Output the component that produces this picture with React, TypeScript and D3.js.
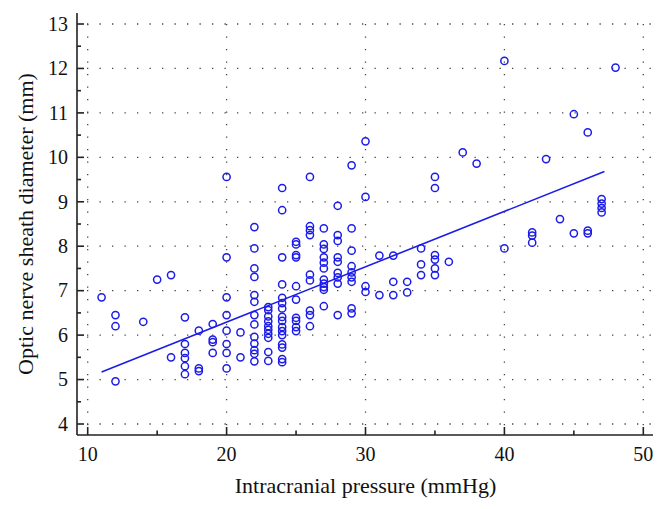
import React from "react";
import * as d3 from "d3";

// ICP (mmHg) and ONSD (mm) observations, grouped by ICP value
const icpColumns: number[] = [11, 12, 14, 15, 16, 17, 18, 19, 20, 21, 22, 23, 24, 25, 26, 27, 28, 29, 30, 31, 32, 33, 34, 35, 36, 37, 38, 40, 42, 43, 44, 45, 46, 47, 48];
const onsdColumns: number[][] = [
  [6.85],
  [6.45, 6.2, 4.96],
  [6.3],
  [7.25],
  [7.35, 5.5],
  [6.4, 5.8, 5.6, 5.48, 5.3, 5.12],
  [6.1, 5.25, 5.19],
  [6.25, 5.9, 5.84, 5.6],
  [9.56, 7.75, 6.85, 6.45, 6.1, 5.8, 5.6, 5.25],
  [6.06, 5.5],
  [8.43, 7.95, 7.5, 7.31, 6.9, 6.75, 6.45, 6.24, 5.96, 5.81, 5.66, 5.58, 5.41],
  [6.63, 6.56, 6.42, 6.31, 6.2, 6.12, 6.03, 5.94, 5.62, 5.42],
  [9.31, 8.81, 7.75, 7.14, 6.84, 6.72, 6.6, 6.41, 6.32, 6.18, 6.09, 6.0, 5.79, 5.72, 5.46, 5.39],
  [8.1, 8.04, 7.8, 7.75, 7.1, 6.8, 6.39, 6.32, 6.18, 6.09],
  [9.56, 8.45, 8.36, 8.25, 7.36, 7.23, 6.55, 6.45, 6.2],
  [8.4, 8.04, 7.94, 7.75, 7.63, 7.5, 7.25, 7.16, 7.08, 7.02, 6.65],
  [8.91, 8.25, 8.12, 7.75, 7.65, 7.4, 7.3, 7.16, 6.45],
  [9.82, 8.4, 7.9, 7.55, 7.41, 7.3, 7.2, 6.6, 6.49],
  [10.36, 9.11, 7.1, 6.97],
  [7.79, 6.9],
  [7.79, 7.2, 6.9],
  [7.2, 6.96],
  [7.95, 7.59, 7.35],
  [9.56, 9.31, 7.8, 7.7, 7.5, 7.35],
  [7.65],
  [10.11],
  [9.86],
  [12.17, 7.95],
  [8.31, 8.24, 8.08],
  [9.96],
  [8.61],
  [10.97, 8.29],
  [10.56, 8.35, 8.29],
  [9.06, 8.96, 8.86, 8.76],
  [12.02],
];

// regression line end points (x, y)
const fitX: number[] = [11, 47.2];
const fitY: number[] = [5.17, 9.68];

const xTicks: number[] = [10, 20, 30, 40, 50];
const xMinorTicks: number[] = [15, 25, 35, 45];
const yTicks: number[] = [4, 5, 6, 7, 8, 9, 10, 11, 12, 13];
const yMinorTicks: number[] = [4.5, 5.5, 6.5, 7.5, 8.5, 9.5, 10.5, 11.5, 12.5];

const xTitle = "Intracranial pressure (mmHg)";
const yTitle = "Optic nerve sheath diameter (mm)";

export default function App() {
  const W = 668;
  const H = 509;
  const x = d3.scaleLinear().domain([10, 50]).range([87.7, 643.3]);
  const y = d3.scaleLinear().domain([4, 13]).range([424, 24]);
  const axisX = 77;
  const axisY = 435;
  const right = 652;
  const top = 13;
  const blue = "#1c1ce8";
  const font = "'Liberation Serif', 'Times New Roman', serif";

  const points: { x: number; y: number }[] = [];
  icpColumns.forEach((icp, i) => {
    onsdColumns[i].forEach((v) => points.push({ x: icp, y: v }));
  });

  const line = d3
    .line<number>()
    .x((_, i) => x(fitX[i]))
    .y((_, i) => y(fitY[i]));

  const dots = "1.3 11.2";

  return (
    <svg
      width={W}
      height={H}
      style={{ position: "absolute", left: 0, top: 0, background: "#fff" }}
    >
      <rect x={0} y={0} width={W} height={H} fill="#fff" />
      {/* grid */}
      <g stroke="#444" strokeWidth={1.3} strokeDasharray={dots}>
        {yTicks.map((t) => (
          <line key={"gy" + t} x1={axisX + 10} x2={right} y1={y(t)} y2={y(t)} />
        ))}
        {xTicks.map((t) => (
          <line key={"gx" + t} x1={x(t)} x2={x(t)} y1={y(13)} y2={axisY - 9} />
        ))}
      </g>
      {/* axes */}
      <g stroke="#222" strokeWidth={1.6} fill="none">
        <line x1={axisX} x2={axisX} y1={top} y2={axisY} />
        <line x1={axisX} x2={right + 1} y1={axisY} y2={axisY} />
        {yTicks.map((t) => (
          <line key={"ty" + t} x1={axisX} x2={axisX + 7} y1={y(t)} y2={y(t)} />
        ))}
        {yMinorTicks.map((t) => (
          <line key={"tym" + t} x1={axisX} x2={axisX + 4} y1={y(t)} y2={y(t)} />
        ))}
        {xTicks.map((t) => (
          <line key={"tx" + t} x1={x(t)} x2={x(t)} y1={axisY} y2={axisY - 8} />
        ))}
        {xMinorTicks.map((t) => (
          <line key={"txm" + t} x1={x(t)} x2={x(t)} y1={axisY} y2={axisY - 4.5} />
        ))}
      </g>
      {/* tick labels */}
      <g fontFamily={font} fontSize={20} fill="#111">
        {yTicks.map((t) => (
          <text key={"ly" + t} x={68} y={y(t)} dy="0.34em" textAnchor="end">
            {t}
          </text>
        ))}
        {xTicks.map((t) => (
          <text key={"lx" + t} x={x(t)} y={461} textAnchor="middle">
            {t}
          </text>
        ))}
      </g>
      {/* titles */}
      <text
        x={x(30)}
        y={493}
        textAnchor="middle"
        fontFamily={font}
        fontSize={22}
        fill="#111"
      >
        {xTitle}
      </text>
      <text
        transform={`translate(33, ${(top + axisY) / 2}) rotate(-90)`}
        textAnchor="middle"
        fontFamily={font}
        fontSize={22}
        fill="#111"
      >
        {yTitle}
      </text>
      {/* points */}
      <g fill="none" stroke={blue} strokeWidth={1.5}>
        {points.map((p, i) => (
          <circle key={i} cx={x(p.x)} cy={y(p.y)} r={3.6} />
        ))}
      </g>
      {/* regression line */}
      <path d={line(fitX) || ""} fill="none" stroke={blue} strokeWidth={1.6} />
    </svg>
  );
}
